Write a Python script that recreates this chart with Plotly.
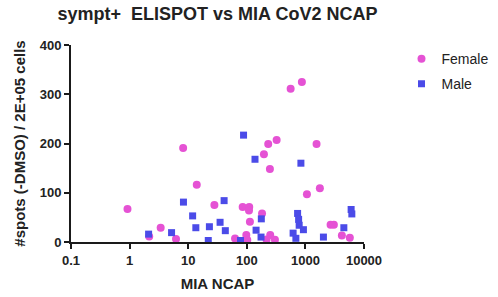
import plotly.graph_objects as go

# Data (MIA NCAP, #spots)
female_x = [0.92, 2.16, 3.39, 6.2, 8.2, 14, 28, 63, 85, 110, 109, 113, 98, 102,
            182, 196, 232, 323, 248, 251, 217, 302, 560, 871, 1062, 1550, 1766,
            2690, 3060, 4190, 5730]
female_y = [67, 11, 29, 6, 191, 116, 75, 7, 71, 71, 64, 41, 14, 4,
            58, 178, 199, 207, 148, 14, 5, 4.5, 311, 325, 97, 199, 109,
            35, 35, 13, 8.5]

male_x = [2.11, 5.2, 8.3, 11.9, 13.5, 23, 35, 41, 43, 22, 78, 88, 138, 144,
          177, 175, 617, 688, 736, 766, 783, 925, 838, 2030, 4530, 6030, 6200]
male_y = [16, 19, 81, 53, 29, 31, 40, 84, 23, 3, 3, 217, 168, 24,
          47, 10, 18, 7.5, 58, 46, 34, 25, 160, 10, 29, 66, 57]

x_tickvals = [0.1, 1, 10, 100, 1000, 10000]
x_ticktext = ["0.1", "1", "10", "100", "1000", "10000"]
y_tickvals = [0, 100, 200, 300, 400]

FONT = "Arial, 'Liberation Sans', Helvetica, sans-serif"
FEMALE_COLOR = "#E552D4"
MALE_COLOR = "#4B4BE8"
TXT = "#222222"

fig = go.Figure()
fig.add_trace(go.Scatter(
    x=female_x, y=female_y, mode="markers", name="Female", legendgroup="f",
    marker=dict(symbol="circle", size=8, color=FEMALE_COLOR),
    cliponaxis=False,
))
fig.add_trace(go.Scatter(
    x=male_x, y=male_y, mode="markers", name="Male", legendgroup="m",
    marker=dict(symbol="square", size=7, color=MALE_COLOR),
    cliponaxis=False,
))

fig.update_layout(
    width=498, height=297,
    margin=dict(l=71, r=134, t=45, b=55, autoexpand=False),
    paper_bgcolor="white", plot_bgcolor="white",
    font=dict(family=FONT, color=TXT),
    title=dict(
        text="<b>sympt+  ELISPOT vs MIA CoV2 NCAP</b>",
        x=0.5, xref="paper", xanchor="center",
        y=0.953, yref="container", yanchor="middle",
        font=dict(size=18, family=FONT, color=TXT),
    ),
    showlegend=True,
    legend=dict(
        x=1.128, xanchor="left", y=1.01, yanchor="top",
        font=dict(size=14, family=FONT, color=TXT),
        bgcolor="rgba(0,0,0,0)", traceorder="grouped", tracegroupgap=4,
    ),
    xaxis=dict(
        type="log", range=[-1, 4], automargin=False,
        tickvals=x_tickvals, ticktext=x_ticktext,
        showgrid=False, zeroline=False,
        showline=True, linecolor="#1a1a1a", linewidth=2,
        ticks="outside", ticklen=5, tickwidth=2, tickcolor="#1a1a1a",
        tickfont=dict(size=13, family=FONT, color=TXT, weight="bold"),
        title=dict(text="<b>MIA NCAP</b>", font=dict(size=15, family=FONT, color=TXT), standoff=12),
    ),
    yaxis=dict(
        range=[0, 400], automargin=False,
        tickvals=y_tickvals,
        showgrid=False, zeroline=False,
        showline=True, linecolor="#1a1a1a", linewidth=2,
        ticks="outside", ticklen=5, tickwidth=2, tickcolor="#1a1a1a",
        tickfont=dict(size=13, family=FONT, color=TXT, weight="bold"),
        title=dict(text="<b>#spots (-DMSO) / 2E+05 cells</b>", font=dict(size=15, family=FONT, color=TXT), standoff=10),
    ),
)

fig.write_html(
    "out.html",
    config={"displayModeBar": False},
    post_script="document.body.style.margin='0';",
)
